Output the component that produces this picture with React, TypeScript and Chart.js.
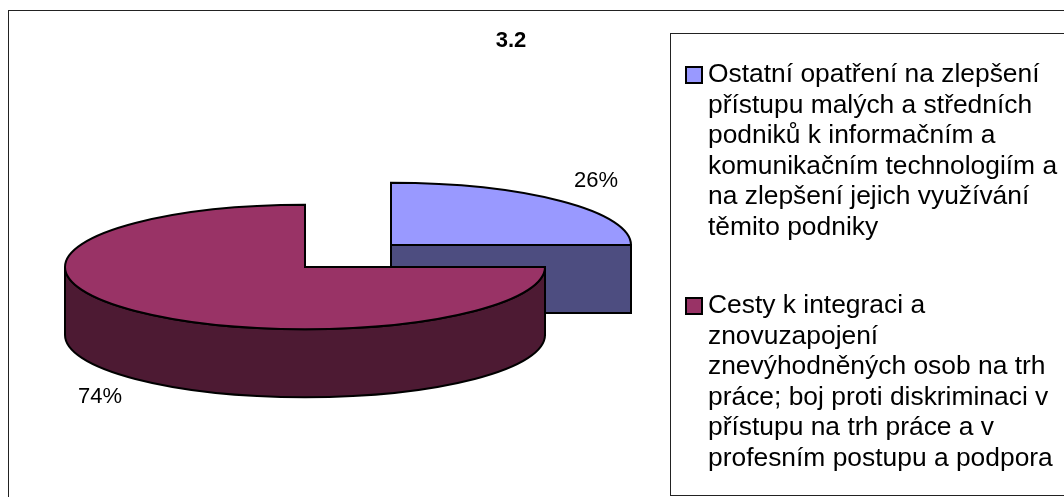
import { useEffect, useRef } from "react";
import { Chart, registerables } from "chart.js";

Chart.register(...registerables);

const title = "3.2";
const categories = [
  "Ostatní opatření na zlepšení přístupu malých a středních podniků k informačním a komunikačním technologiím a na zlepšení jejich využívání těmito podniky",
  "Cesty k integraci a znovuzapojení znevýhodněných osob na trh práce; boj proti diskriminaci v přístupu na trh práce a v profesním postupu a podpora",
];
const legendLines = [
  ["Ostatní opatření na zlepšení", "přístupu malých a středních", "podniků k informačním a", "komunikačním technologiím a", "na zlepšení jejich využívání", "těmito podniky"],
  ["Cesty k integraci a", "znovuzapojení", "znevýhodněných osob na trh", "práce; boj proti diskriminaci v", "přístupu na trh práce a v", "profesním postupu a podpora"],
];
const shares = [26, 74];
const topColors = ["#9999FF", "#993366"];
const sideColors = ["#4D4D80", "#4D1A33"];

const FONT = '"Liberation Sans", Arial, sans-serif';
const RATIO = 0.259;
const DEPTH = 68;
const FORESHORTEN = 0.063; // the 3D view bends slice angles slightly
const EXPLODE = [{ dx: 86, dy: -22 }, { dx: 0, dy: 0 }];
const LABEL_POS = [{ x: 596, y: 181 }, { x: 100, y: 397 }];
const LEGEND_Y = [75, 306];
const LINE_H = 30.5;

const project = (a: number) => {
  const t = a + Math.PI / 2;
  return t - FORESHORTEN * Math.sin(t) - Math.PI / 2;
};

const pie3d = {
  id: "pie3d",
  beforeDatasetDraw(chart: any) {
    const { ctx } = chart;
    const arcs = chart.getDatasetMeta(0).data;
    ctx.save();
    arcs.forEach((arc: any, i: number) => {
      const cx = arc.x + EXPLODE[i].dx;
      const cy = arc.y + EXPLODE[i].dy;
      const r = arc.outerRadius;
      const ry = r * RATIO;
      const a0 = project(arc.startAngle);
      const a1 = project(arc.endAngle);
      const px = (a: number) => cx + Math.cos(a) * r;
      const py = (a: number) => cy + Math.sin(a) * ry;
      ctx.lineWidth = 2;
      ctx.strokeStyle = "#000";
      ctx.lineJoin = "miter";

      // radial cut faces
      ctx.fillStyle = sideColors[i];
      [a0, a1].forEach((a) => {
        ctx.beginPath();
        ctx.moveTo(cx, cy);
        ctx.lineTo(px(a), py(a));
        ctx.lineTo(px(a), py(a) + DEPTH);
        ctx.lineTo(cx, cy + DEPTH);
        ctx.closePath();
        ctx.fill();
        ctx.stroke();
      });

      // outer wall: only the part of the rim in the front half
      const ranges: [number, number][] = [];
      for (const k of [0, 2]) {
        const s = Math.max(a0, k * Math.PI);
        const e = Math.min(a1, k * Math.PI + Math.PI);
        if (e > s) ranges.push([s, e]);
      }
      ranges.forEach(([s, e]) => {
        ctx.beginPath();
        ctx.ellipse(cx, cy, r, ry, 0, s, e, false);
        ctx.ellipse(cx, cy + DEPTH, r, ry, 0, e, s, true);
        ctx.closePath();
        ctx.fill();
        ctx.stroke();
      });

      // top face
      ctx.fillStyle = topColors[i];
      ctx.beginPath();
      ctx.moveTo(cx, cy);
      ctx.ellipse(cx, cy, r, ry, 0, a0, a1, false);
      ctx.closePath();
      ctx.fill();
      ctx.stroke();
    });
    ctx.restore();
    return false;
  },
  afterDraw(chart: any) {
    const { ctx, width, height } = chart;
    ctx.save();
    // outer frame
    ctx.strokeStyle = "#222";
    ctx.lineWidth = 1;
    ctx.strokeRect(8.5, 10.5, width, height);
    // legend frame
    ctx.strokeRect(670.5, 33.5, width, 462);

    ctx.fillStyle = "#000";
    ctx.textBaseline = "middle";

    ctx.font = `bold 22px ${FONT}`;
    ctx.textAlign = "center";
    ctx.fillText(title, 511, 41);

    ctx.font = `22px ${FONT}`;
    shares.forEach((v, i) => {
      ctx.fillText(`${v}%`, LABEL_POS[i].x, LABEL_POS[i].y);
    });

    ctx.textAlign = "left";
    ctx.font = `26.4px ${FONT}`;
    legendLines.forEach((lines, i) => {
      const y0 = LEGEND_Y[i];
      ctx.fillStyle = topColors[i];
      ctx.fillRect(686, y0 - 8, 16, 16);
      ctx.strokeStyle = "#000";
      ctx.lineWidth = 2;
      ctx.strokeRect(686, y0 - 8, 16, 16);
      ctx.fillStyle = "#000";
      lines.forEach((t, k) => ctx.fillText(t, 708, y0 + k * LINE_H));
    });
    ctx.restore();
  },
};

export default function App() {
  const ref = useRef<HTMLCanvasElement>(null);
  useEffect(() => {
    document.body.style.margin = "0";
    document.body.style.background = "#fff";
    const chart = new Chart(ref.current!, {
      type: "pie",
      data: {
        labels: categories,
        datasets: [{ data: shares, backgroundColor: topColors, borderWidth: 0 }],
      },
      options: {
        responsive: false,
        animation: false,
        radius: 240,
        layout: { padding: { left: 0, right: 454, top: 37, bottom: 0 } },
        plugins: { legend: { display: false }, tooltip: { enabled: false } },
      },
      plugins: [pie3d],
    } as any);
    return () => chart.destroy();
  }, []);
  return <canvas ref={ref} width={1064} height={497} style={{ display: "block" }} />;
}
